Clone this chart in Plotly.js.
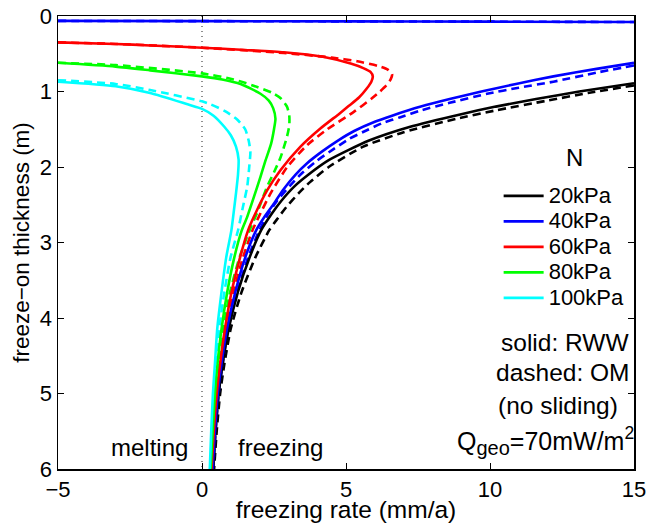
<!DOCTYPE html>
<html>
<head>
<meta charset="utf-8">
<script src="https://cdn.plot.ly/plotly-3.0.1.min.js"></script>
<style>html,body{margin:0;padding:0;background:#fff;}#chart{width:647px;height:523px;}</style>
</head>
<body>
<div id="chart"></div>
<script>
// Series names (effective pressure N)
const seriesNames = ["20kPa", "40kPa", "60kPa", "80kPa", "100kPa"];
const seriesColors = ["#000000", "#0000ff", "#ff0000", "#00ff00", "#00ffff"];

// freezing rate (mm/a) vs freeze-on thickness (m); null splits branches
// 20 kPa
const rww20x = [15, 13.1, 11.6, 10.2, 9.0, 7.2, 5.8, 4.4, 3.7, 3.2, 2.75, 2.42, 2.05, 1.65, 1.25, 0.93, 0.72, 0.58, 0.47, 0.39];
const rww20y = [0.89, 1.0, 1.1, 1.2, 1.3, 1.47, 1.65, 1.91, 2.1, 2.26, 2.45, 2.62, 2.84, 3.2, 3.65, 4.14, 4.6, 5.0, 5.5, 6.0];
const om20x  = [15, 13.4, 12.0, 10.2, 8.85, 7.0, 5.6, 4.4, 3.75, 3.35, 2.93, 2.57, 2.33, 1.85, 1.38, 1.0, 0.78, 0.63, 0.51, 0.42];
const om20y  = [0.92, 1.02, 1.12, 1.25, 1.36, 1.54, 1.73, 2.0, 2.2, 2.35, 2.53, 2.71, 2.84, 3.2, 3.65, 4.14, 4.6, 5.0, 5.5, 6.0];
// 40 kPa
const rww40x = [-5, 0, 5, 10, 15, null, 15, 13.7, 12.2, 10.9, 9.7, 8.6, 7.6, 6.6, 6.0, 5.3, 4.72, 4.15, 3.65, 3.25, 2.8, 2.47, 2.17, 1.88, 1.5, 1.16, 0.87, 0.68, 0.55, 0.45, 0.37];
const rww40y = [0.065, 0.068, 0.071, 0.075, 0.08, null, 0.62, 0.7, 0.8, 0.9, 1.0, 1.1, 1.2, 1.32, 1.40, 1.52, 1.65, 1.8, 1.95, 2.1, 2.31, 2.5, 2.66, 2.84, 3.2, 3.65, 4.14, 4.6, 5.0, 5.5, 6.0];
const om40x  = [-5, 0, 5, 10, 15, null, 15, 13.7, 12.2, 11.0, 9.9, 8.6, 7.6, 6.89, 6.25, 5.74, 5.1, 4.58, 3.98, 3.45, 3.05, 2.62, 2.3, 1.99, 1.6, 1.23, 0.91, 0.72, 0.58, 0.47, 0.39];
const om40y  = [0.065, 0.068, 0.071, 0.075, 0.08, null, 0.655, 0.75, 0.87, 0.95, 1.03, 1.15, 1.25, 1.34, 1.42, 1.51, 1.63, 1.76, 1.92, 2.09, 2.25, 2.44, 2.62, 2.84, 3.2, 3.65, 4.14, 4.6, 5.0, 5.5, 6.0];
// 60 kPa
const rww60x = [-5, -3, -1.8, 0, 1.5, 2.84, 4.2, 5.16, 5.6, 5.85, 5.93, 5.88, 5.72, 5.45, 5.1, 4.78, 4.11, 3.42, 2.73, 2.26, 1.80, 1.6, 1.32, 1.03, 0.80, 0.63, 0.51, 0.41, 0.33];
const rww60y = [0.35, 0.37, 0.39, 0.42, 0.45, 0.48, 0.54, 0.63, 0.69, 0.74, 0.80, 0.87, 0.96, 1.08, 1.19, 1.29, 1.49, 1.73, 2.04, 2.31, 2.66, 2.84, 3.2, 3.65, 4.14, 4.6, 5.0, 5.5, 6.0];
const om60x  = [-5, -3, 0, 2.84, 4.5, 5.39, 6.1, 6.45, 6.6, 6.55, 6.4, 6.18, 5.9, 5.27, 4.35, 3.65, 2.96, 2.38, 1.97, 1.75, 1.42, 1.1, 0.84, 0.67, 0.54, 0.44, 0.36];
const om60y  = [0.35, 0.37, 0.42, 0.49, 0.55, 0.60, 0.66, 0.71, 0.77, 0.84, 0.92, 1.0, 1.09, 1.27, 1.50, 1.71, 2.0, 2.35, 2.66, 2.84, 3.2, 3.65, 4.14, 4.6, 5.0, 5.5, 6.0];
// 80 kPa
const rww80x = [-5, -3, -1.8, 0, 0.7, 1.34, 2.03, 2.32, 2.47, 2.55, 2.5, 2.4, 2.2, 2.03, 1.8, 1.57, 1.38, 1.12, 0.88, 0.68, 0.54, 0.45, 0.37, 0.30];
const rww80y = [0.62, 0.67, 0.72, 0.80, 0.84, 0.90, 1.03, 1.12, 1.22, 1.36, 1.50, 1.69, 1.92, 2.13, 2.4, 2.66, 2.84, 3.2, 3.65, 4.14, 4.6, 5.0, 5.5, 6.0];
const om80x  = [-5, -3, 0, 1.1, 1.92, 2.45, 2.73, 2.95, 3.03, 3.03, 2.95, 2.73, 2.5, 2.26, 1.9, 1.65, 1.3, 0.98, 0.74, 0.59, 0.49, 0.40, 0.33];
const om80y  = [0.62, 0.65, 0.76, 0.84, 0.94, 1.02, 1.09, 1.2, 1.32, 1.45, 1.6, 1.87, 2.07, 2.26, 2.62, 2.84, 3.2, 3.65, 4.14, 4.6, 5.0, 5.5, 6.0];
// 100 kPa
const rww100x = [-5, -3, -1.8, -0.5, 0, 0.4, 0.76, 1.0, 1.18, 1.27, 1.25, 1.18, 1.1, 1.02, 0.84, 0.68, 0.53, 0.45, 0.38, 0.32, 0.27];
const rww100y = [0.87, 0.93, 1.02, 1.17, 1.23, 1.32, 1.46, 1.58, 1.73, 1.9, 2.1, 2.35, 2.6, 2.84, 3.2, 3.65, 4.14, 4.6, 5.0, 5.5, 6.0];
const om100x  = [-5, -3, -1.8, 0, 0.3, 0.8, 1.22, 1.5, 1.62, 1.68, 1.64, 1.57, 1.42, 1.25, 0.99, 0.78, 0.60, 0.50, 0.42, 0.35, 0.30];
const om100y  = [0.85, 0.90, 0.98, 1.13, 1.17, 1.26, 1.37, 1.5, 1.65, 1.8, 2.0, 2.26, 2.53, 2.84, 3.2, 3.65, 4.14, 4.6, 5.0, 5.5, 6.0];

// zero line (melting / freezing boundary)
const zeroX = [0, 0];
const zeroY = [0, 6];

const xTicks = [-5, 0, 5, 10, 15];
const yTicks = [0, 1, 2, 3, 4, 5, 6];

const solidX = [rww20x, rww40x, rww60x, rww80x, rww100x];
const solidY = [rww20y, rww40y, rww60y, rww80y, rww100y];
const dashX = [om20x, om40x, om60x, om80x, om100x];
const dashY = [om20y, om40y, om60y, om80y, om100y];

const FONT = "Liberation Sans, Arial, Helvetica, sans-serif";
const traces = [];
traces.push({x: zeroX, y: zeroY, mode: "lines", showlegend: false, hoverinfo: "skip",
  line: {color: "#444", width: 1.2, dash: "1px,4px"}});
for (let i = 0; i < seriesNames.length; i++) {
  traces.push({x: dashX[i], y: dashY[i], mode: "lines", showlegend: false, connectgaps: false,
    line: {color: seriesColors[i], width: 2.6, dash: "8px,5px", shape: "spline", smoothing: 0.6}});
}
for (let i = 0; i < seriesNames.length; i++) {
  traces.push({x: solidX[i], y: solidY[i], mode: "lines",
    name: '<span style="font-size:22px">' + seriesNames[i] + '</span>', connectgaps: false,
    line: {color: seriesColors[i], width: 2.6, shape: "spline", smoothing: 0.6}});
}

const layout = {
  width: 647, height: 523,
  margin: {l: 58, r: 13, t: 16, b: 54},
  paper_bgcolor: "#fff", plot_bgcolor: "#fff",
  font: {family: FONT, size: 22, color: "#000"},
  showlegend: true,
  xaxis: {
    range: [-5, 15], tickvals: xTicks, ticks: "inside", ticklen: 6, tickcolor: "#000",
    showline: true, linecolor: "#000", linewidth: 1.5, mirror: "ticks", showgrid: false, zeroline: false,
    tickfont: {size: 22}, automargin: false,
    title: {text: "freezing rate (mm/a)", font: {size: 24.5}, standoff: 2}
  },
  yaxis: {
    range: [6, 0], tickvals: yTicks, ticks: "inside", ticklen: 6, tickcolor: "#000",
    showline: true, linecolor: "#000", linewidth: 1.5, mirror: "ticks", showgrid: false, zeroline: false,
    tickfont: {size: 22}, automargin: false,
    title: {text: "freeze\u2212on thickness (m)", font: {size: 22.5}, standoff: 4}
  },
  legend: {
    x: 0.765, y: 0.642, xanchor: "left", yanchor: "top",
    bgcolor: "rgba(0,0,0,0)", borderwidth: 0,
    font: {size: 17.3}, itemwidth: 40, tracegroupgap: 0
  },
  annotations: [
    {text: "N", xref: "paper", yref: "paper", x: 0.896, y: 0.688, xanchor: "center", yanchor: "middle", showarrow: false, font: {size: 24}},
    {text: "solid: RWW", xref: "paper", yref: "paper", x: 0.995, y: 0.28, xanchor: "right", yanchor: "middle", showarrow: false, font: {size: 24.5}},
    {text: "dashed: OM", xref: "paper", yref: "paper", x: 0.995, y: 0.213, xanchor: "right", yanchor: "middle", showarrow: false, font: {size: 24.5}},
    {text: "(no sliding)", xref: "paper", yref: "paper", x: 0.868, y: 0.141, xanchor: "center", yanchor: "middle", showarrow: false, font: {size: 24.5}},
    {text: 'Q<sub><span style="font-size:20px">geo</span></sub>=70mW/m<sup>2</sup>', xref: "paper", yref: "paper", x: 1.003, y: 0.062, xanchor: "right", yanchor: "middle", showarrow: false, font: {size: 25}},
    {text: "melting", xref: "paper", yref: "paper", x: 0.159, y: 0.0485, xanchor: "center", yanchor: "middle", showarrow: false, font: {size: 24}},
    {text: "freezing", xref: "paper", yref: "paper", x: 0.386, y: 0.0485, xanchor: "center", yanchor: "middle", showarrow: false, font: {size: 24}}
  ]
};

Plotly.newPlot("chart", traces, layout, {displayModeBar: false, staticPlot: true});
</script>
</body>
</html>
